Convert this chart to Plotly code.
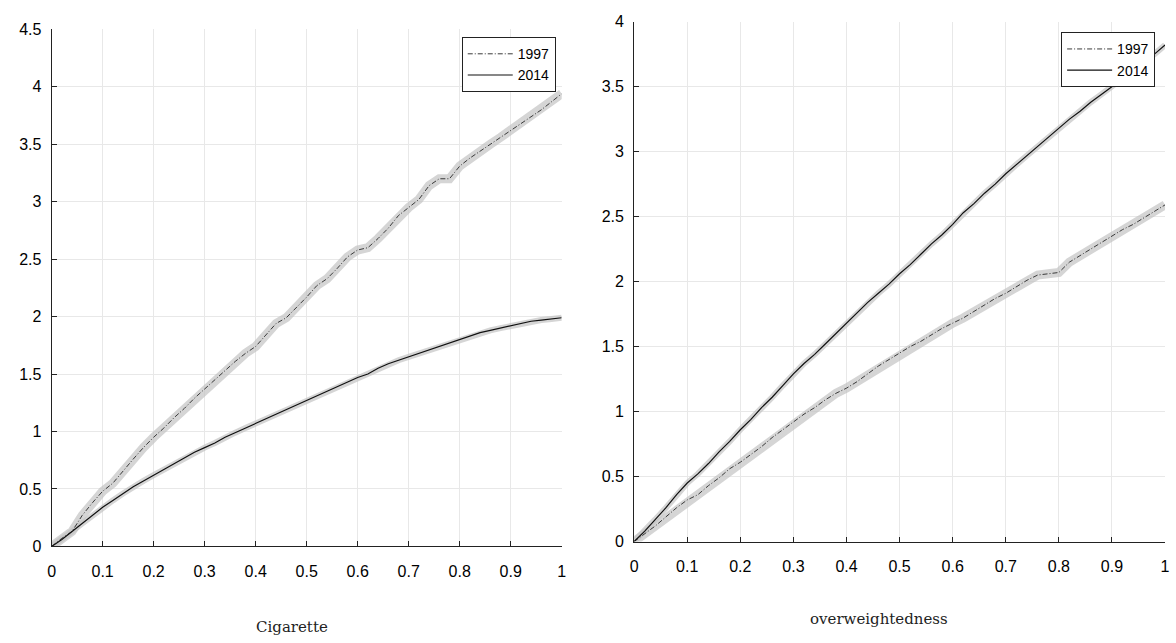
import plotly.graph_objects as go

x = [0.00, 0.02, 0.04, 0.06, 0.08, 0.10, 0.12, 0.14, 0.16, 0.18,
     0.20, 0.22, 0.24, 0.26, 0.28, 0.30, 0.32, 0.34, 0.36, 0.38,
     0.40, 0.42, 0.44, 0.46, 0.48, 0.50, 0.52, 0.54, 0.56, 0.58,
     0.60, 0.62, 0.64, 0.66, 0.68, 0.70, 0.72, 0.74, 0.76, 0.78,
     0.80, 0.82, 0.84, 0.86, 0.88, 0.90, 0.92, 0.94, 0.96, 0.98, 1.00]

cig_1997 = [0.00, 0.07, 0.13, 0.27, 0.38, 0.48, 0.55, 0.66, 0.76, 0.86,
            0.95, 1.03, 1.12, 1.20, 1.29, 1.37, 1.45, 1.53, 1.61, 1.68,
            1.74, 1.84, 1.94, 1.99, 2.08, 2.17, 2.27, 2.33, 2.42, 2.52,
            2.58, 2.60, 2.68, 2.77, 2.88, 2.95, 3.02, 3.14, 3.20, 3.20,
            3.31, 3.38, 3.44, 3.50, 3.56, 3.62, 3.68, 3.74, 3.80, 3.87, 3.94]

cig_2014 = [0.00, 0.06, 0.13, 0.20, 0.27, 0.34, 0.40, 0.46, 0.52, 0.57,
            0.62, 0.67, 0.72, 0.77, 0.82, 0.86, 0.90, 0.95, 0.99, 1.03,
            1.07, 1.11, 1.15, 1.19, 1.23, 1.27, 1.31, 1.35, 1.39, 1.43,
            1.47, 1.50, 1.55, 1.59, 1.62, 1.65, 1.68, 1.71, 1.74, 1.77,
            1.80, 1.83, 1.86, 1.88, 1.90, 1.92, 1.94, 1.96, 1.97, 1.98, 1.99]

ow_1997 = [0.00, 0.06, 0.12, 0.19, 0.26, 0.32, 0.36, 0.43, 0.49, 0.56,
           0.61, 0.67, 0.73, 0.80, 0.86, 0.92, 0.98, 1.03, 1.09, 1.14,
           1.18, 1.23, 1.29, 1.35, 1.40, 1.45, 1.50, 1.54, 1.59, 1.64,
           1.68, 1.72, 1.77, 1.82, 1.87, 1.91, 1.96, 2.01, 2.05, 2.06,
           2.07, 2.15, 2.20, 2.25, 2.30, 2.35, 2.40, 2.44, 2.49, 2.54, 2.59]

ow_2014 = [0.00, 0.08, 0.17, 0.26, 0.36, 0.45, 0.52, 0.60, 0.69, 0.77,
           0.86, 0.94, 1.03, 1.11, 1.20, 1.29, 1.37, 1.44, 1.52, 1.60,
           1.68, 1.76, 1.84, 1.91, 1.98, 2.06, 2.13, 2.21, 2.29, 2.36,
           2.44, 2.53, 2.60, 2.68, 2.75, 2.83, 2.90, 2.97, 3.04, 3.11,
           3.18, 3.25, 3.31, 3.38, 3.44, 3.50, 3.56, 3.62, 3.69, 3.75, 3.82]

x_ticks = [0, 0.1, 0.2, 0.3, 0.4, 0.5, 0.6, 0.7, 0.8, 0.9, 1]
x_tick_labels = ["0", "0.1", "0.2", "0.3", "0.4", "0.5", "0.6", "0.7", "0.8", "0.9", "1"]
y_ticks_left = [0, 0.5, 1, 1.5, 2, 2.5, 3, 3.5, 4, 4.5]
y_ticks_right = [0, 0.5, 1, 1.5, 2, 2.5, 3, 3.5, 4]
panel_titles = ["Cigarette", "overweightedness"]
series_names = ["1997", "2014"]

fig = go.Figure()

BAND = "rgba(195,195,195,0.7)"
DASHDOT = "5px,2px,1px,2px"

def add_panel(xa, ya, y97, y14, legend):
    fig.add_trace(go.Scatter(x=x, y=y97, mode="lines", xaxis=xa, yaxis=ya,
                             line=dict(color=BAND, width=9), showlegend=False, hoverinfo="skip"))
    fig.add_trace(go.Scatter(x=x, y=y14, mode="lines", xaxis=xa, yaxis=ya,
                             line=dict(color=BAND, width=6), showlegend=False, hoverinfo="skip"))
    fig.add_trace(go.Scatter(x=x, y=y97, mode="lines", xaxis=xa, yaxis=ya, name=series_names[0],
                             line=dict(color="#3a3a3a", width=1, dash=DASHDOT), legend=legend))
    fig.add_trace(go.Scatter(x=x, y=y14, mode="lines", xaxis=xa, yaxis=ya, name=series_names[1],
                             line=dict(color="#111111", width=1.2), legend=legend))

add_panel("x", "y", cig_1997, cig_2014, "legend")
add_panel("x2", "y2", ow_1997, ow_2014, "legend2")

W, H = 1176, 643
TICKFONT = dict(family="Liberation Sans, Arial, sans-serif", size=16, color="#000000")
axis_common = dict(showline=True, linecolor="#222222", linewidth=1, ticks="inside", ticklen=5,
                   tickcolor="#222222", showgrid=True, gridcolor="#e8e8e8", gridwidth=1,
                   zeroline=False, mirror=False, tickfont=TICKFONT)
LEGFONT = dict(family="Liberation Sans, Arial, sans-serif", size=14, color="#000000")

fig.update_layout(
    width=W, height=H,
    margin=dict(l=0, r=0, t=0, b=0),
    paper_bgcolor="white", plot_bgcolor="white",
    xaxis=dict(domain=[48 / W, 562 / W], range=[0, 1], anchor="y", ticklabelstandoff=10,
               tickvals=x_ticks, ticktext=x_tick_labels, **axis_common),
    yaxis=dict(domain=[1 - 553 / H, 1 - 22 / H], range=[0, 4.5], anchor="x", ticklabelstandoff=6,
               tickvals=y_ticks_left, **axis_common),
    xaxis2=dict(domain=[635 / W, 1170 / W], range=[0, 1], anchor="y2", ticklabelstandoff=10,
                tickvals=x_ticks, ticktext=x_tick_labels, **axis_common),
    yaxis2=dict(domain=[1 - 548 / H, 1 - 14 / H], range=[0, 4], anchor="x2", ticklabelstandoff=6,
                tickvals=y_ticks_right, **axis_common),
    legend=dict(x=556 / W, y=1 - 30 / H, xanchor="right", yanchor="top",
                bordercolor="#222222", borderwidth=1, bgcolor="white", font=LEGFONT,
                tracegroupgap=0, itemwidth=45),
    legend2=dict(x=1160 / W, y=1 - 25 / H, xanchor="right", yanchor="top",
                 bordercolor="#222222", borderwidth=1, bgcolor="white", font=LEGFONT,
                 tracegroupgap=0, itemwidth=45),
    annotations=[
        dict(text=panel_titles[0], x=290 / W, y=1 - 636 / H, xref="paper", yref="paper",
             xanchor="center", yanchor="middle", showarrow=False,
             font=dict(family="DejaVu Serif, Liberation Serif, serif", size=15, color="#222222")),
        dict(text=panel_titles[1], x=882 / W, y=1 - 628 / H, xref="paper", yref="paper",
             xanchor="center", yanchor="middle", showarrow=False,
             font=dict(family="DejaVu Serif, Liberation Serif, serif", size=15, color="#222222")),
    ],
)

fig.write_html("out.html")
